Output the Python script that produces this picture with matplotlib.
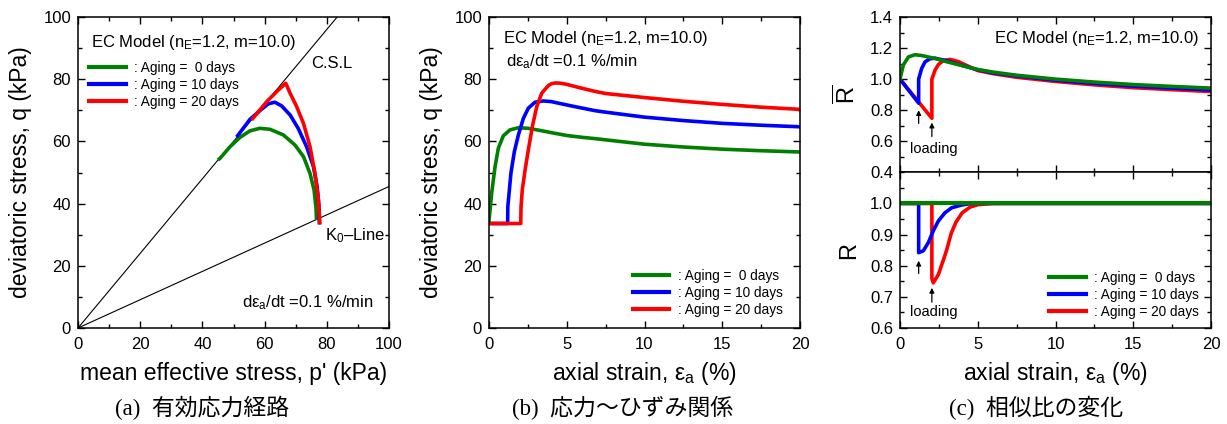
import matplotlib
matplotlib.use("Agg")
import matplotlib.pyplot as plt
from matplotlib.ticker import MultipleLocator
from matplotlib.lines import Line2D

plt.rcParams['font.family'] = ['Liberation Sans', 'DejaVu Sans']
plt.rcParams['mathtext.fontset'] = 'custom'
plt.rcParams['mathtext.rm'] = 'Liberation Sans'
plt.rcParams['mathtext.it'] = 'Liberation Sans:italic'
plt.rcParams['mathtext.sf'] = 'Liberation Sans'

# ---------------- data ----------------
labels = [': Aging =  0 days', ': Aging = 10 days', ': Aging = 20 days']
colors = ['#008000', '#0000ff', '#ff0000']

# critical state line slope and K0 line slope
csl_M = 1.2
k0_slope = 0.455

# (a) effective stress paths  p' (kPa), q (kPa)
p_0 = [76.7, 76.5, 75.9, 74.6, 72.5, 69.8, 66.0, 61.7, 58.5, 55.3, 52.1, 48.9, 45.7, 45.0]
q_0 = [34.7, 39.0, 44.4, 49.7, 55.1, 58.8, 62.1, 63.9, 64.2, 63.4, 61.3, 58.3, 54.6, 54.0]
p_10 = [77.6, 77.5, 76.9, 75.7, 73.5, 70.8, 68.2, 65.5, 63.3, 61.2, 58.5, 55.3, 51.0]
q_10 = [33.3, 39.0, 45.4, 51.9, 58.3, 64.2, 68.5, 71.4, 72.6, 72.1, 69.9, 67.1, 61.4]
p_20 = [77.8, 77.3, 76.2, 74.6, 72.5, 70.3, 68.2, 66.8, 64.4, 60.7, 55.8]
q_20 = [33.3, 41.2, 49.7, 58.3, 65.8, 71.2, 75.5, 78.7, 76.5, 72.8, 66.9]

# (b) stress-strain  axial strain (%), q (kPa)
e_b0 = [0.0, 0.17, 0.39, 0.6, 0.92, 1.35, 1.89, 2.53, 3.2, 4.03, 5.0, 6.0, 6.8,
        7.5, 10.0, 12.5, 15.0, 17.5, 20.0]
q_b0 = [34.5, 43.3, 51.9, 57.8, 61.8, 63.7, 64.4, 64.2, 63.6, 62.8, 61.9, 61.3, 60.9,
        60.5, 59.1, 58.2, 57.5, 57.0, 56.6]
e_b10 = [0.0, 1.2, 1.21, 1.29, 1.41, 1.63, 1.89, 2.21, 2.53, 2.96, 3.49, 4.0, 4.46,
         5.5, 6.8, 7.5, 10.0, 12.5, 15.0, 17.5, 20.0]
q_b10 = [33.6, 33.6, 39.0, 43.3, 49.8, 56.7, 62.1, 67.4, 70.7, 72.6, 73.0, 72.8, 72.3,
         71.2, 69.9, 69.4, 67.8, 66.7, 65.8, 65.2, 64.7]
e_b20 = [0.0, 2.04, 2.06, 2.14, 2.32, 2.53, 2.79, 3.07, 3.39, 3.82, 4.05, 4.3, 4.6,
         4.95, 5.8, 6.8, 7.5, 10.0, 12.5, 15.0, 17.5, 20.0]
q_b20 = [33.6, 33.6, 39.0, 44.4, 50.8, 57.3, 64.8, 71.2, 75.5, 78.0, 78.6, 78.8, 78.7,
         78.4, 77.3, 76.1, 75.4, 74.1, 72.9, 71.9, 71.0, 70.3]

# (c-upper) R-bar vs axial strain
e_r0 = [0.0, 0.21, 0.54, 0.96, 1.39, 2.25, 3.0, 3.96, 5.0, 6.0, 7.5, 10.0, 12.5, 15.0,
        17.5, 20.0]
rb_0 = [1.0, 1.09, 1.143, 1.157, 1.152, 1.133, 1.112, 1.088, 1.062, 1.045, 1.025, 1.0,
        0.981, 0.965, 0.953, 0.942]
e_r10 = [0.0, 1.2, 1.2, 1.39, 1.61, 1.93, 2.25, 3.0, 4.0, 5.0, 6.0, 7.5, 10.0, 12.5,
         15.0, 17.5, 20.0]
rb_10 = [1.0, 0.845, 1.0, 1.068, 1.111, 1.131, 1.135, 1.118, 1.088, 1.06, 1.04, 1.02,
         0.993, 0.972, 0.955, 0.942, 0.930]
e_r20 = [0.0, 2.05, 2.05, 2.25, 2.47, 2.79, 3.22, 3.75, 4.5, 5.0, 6.0, 7.5, 10.0, 12.5,
         15.0, 17.5, 20.0]
rb_20 = [1.0, 0.748, 1.0, 1.057, 1.094, 1.120, 1.127, 1.113, 1.078, 1.055, 1.035, 1.012,
         0.985, 0.963, 0.945, 0.932, 0.920]

# (c-lower) R vs axial strain
e_s0 = [0.0, 20.0]
r_0 = [1.0, 1.0]
e_s10 = [0.0, 1.2, 1.2, 1.5, 1.82, 2.14, 2.47, 2.89, 3.32, 3.96, 4.6, 20.0]
r_10 = [1.0, 1.0, 0.842, 0.848, 0.874, 0.912, 0.944, 0.970, 0.986, 0.995, 1.0, 1.0]
e_s20 = [0.0, 2.05, 2.05, 2.14, 2.47, 2.8, 3.0, 3.3, 3.6, 4.0, 4.5, 5.0, 6.0, 20.0]
r_20 = [1.0, 1.0, 0.76, 0.745, 0.772, 0.82, 0.85, 0.905, 0.94, 0.97, 0.988, 0.996, 1.0, 1.0]

# loading points marked by arrows
load_strain = [1.2, 2.05]

# ---------------- figure ----------------
W, H = 1227, 424
fig = plt.figure(figsize=(W / 100, H / 100), dpi=100)


def box(x0, y0, x1, y1):
    return [x0 / W, 1 - y1 / H, (x1 - x0) / W, (y1 - y0) / H]


axa = fig.add_axes(box(78, 17, 389, 328))
axb = fig.add_axes(box(489, 17, 800, 328))
axc1 = fig.add_axes(box(900, 17, 1211, 172.3))
axc2 = fig.add_axes(box(900, 172.3, 1211, 328))

LW = 2.6
TICK_FS = 12
LABEL_FS = 16.5
LEG_FS = 9.8


def style(ax, xpad=6.5):
    ax.tick_params(which='both', direction='in', top=True, right=True, width=1.0)
    ax.tick_params(which='major', length=5)
    ax.tick_params(which='minor', length=3)
    ax.tick_params(axis='x', pad=xpad, labelsize=TICK_FS)
    ax.tick_params(axis='y', pad=5, labelsize=TICK_FS)
    for s in ax.spines.values():
        s.set_linewidth(1.1)


leg_kw = dict(frameon=False, fontsize=LEG_FS, borderpad=0, borderaxespad=0,
              handlelength=2.7, handletextpad=0.6, labelspacing=0.22)

# ---- (a) ----
axa.plot([0, 100], [0, csl_M * 100], color='black', lw=0.8)
axa.plot([0, 100], [0, k0_slope * 100], color='black', lw=0.8)
axa.plot(p_0, q_0, color=colors[0], lw=LW, solid_capstyle='butt')
axa.plot(p_10, q_10, color=colors[1], lw=LW, solid_capstyle='butt')
axa.plot(p_20, q_20, color=colors[2], lw=LW, solid_capstyle='butt')
axa.set_xlim(0, 100)
axa.set_ylim(0, 100)
axa.xaxis.set_major_locator(MultipleLocator(20))
axa.xaxis.set_minor_locator(MultipleLocator(10))
axa.yaxis.set_major_locator(MultipleLocator(20))
axa.yaxis.set_minor_locator(MultipleLocator(10))
style(axa)
axa.set_xlabel("mean effective stress, p' (kPa)", fontsize=LABEL_FS, labelpad=7)
axa.set_ylabel("deviatoric stress, q (kPa)", fontsize=LABEL_FS, labelpad=8)
axa.text(4.2, 90.5, r'EC Model (n$_\mathrm{E}$=1.2, m=10.0)', fontsize=12, va='baseline')
axa.text(75.1, 83.5, 'C.S.L', fontsize=12, va='baseline')
axa.text(79.4, 28.1, r'K$_\mathrm{0}$–Line', fontsize=12, va='baseline')
axa.text(52.7, 6.6, r'd$\mathrm{ε_a}$/dt =0.1 %/min', fontsize=12, va='baseline')

handles = [Line2D([], [], color=c, lw=3.0) for c in colors]
axa.legend(handles, labels, loc='upper left', bbox_to_anchor=(0.035, 0.858), **leg_kw)

# ---- (b) ----
axb.plot(e_b0, q_b0, color=colors[0], lw=LW)
axb.plot(e_b10, q_b10, color=colors[1], lw=LW)
axb.plot(e_b20, q_b20, color=colors[2], lw=LW)
axb.set_xlim(0, 20)
axb.set_ylim(0, 100)
axb.xaxis.set_major_locator(MultipleLocator(5))
axb.xaxis.set_minor_locator(MultipleLocator(2.5))
axb.yaxis.set_major_locator(MultipleLocator(20))
axb.yaxis.set_minor_locator(MultipleLocator(10))
style(axb)
axb.set_xlabel(r'axial strain, $\mathrm{ε_a}$ (%)', fontsize=LABEL_FS, labelpad=6)
axb.set_ylabel("deviatoric stress, q (kPa)", fontsize=LABEL_FS, labelpad=8)
axb.text(0.88, 91.7, r'EC Model (n$_\mathrm{E}$=1.2, m=10.0)', fontsize=12, va='baseline')
axb.text(1.09, 84.0, r'd$\mathrm{ε_a}$/dt =0.1 %/min', fontsize=12, va='baseline')
axb.legend(handles, labels, loc='lower left', bbox_to_anchor=(0.462, 0.035), **leg_kw)

# ---- (c) upper: R-bar ----
axc1.plot(e_r20, rb_20, color=colors[2], lw=LW)
axc1.plot(e_r10, rb_10, color=colors[1], lw=LW)
axc1.plot(e_r0, rb_0, color=colors[0], lw=LW)
axc1.set_xlim(0, 20)
axc1.set_ylim(0.4, 1.4)
axc1.xaxis.set_major_locator(MultipleLocator(5))
axc1.xaxis.set_minor_locator(MultipleLocator(2.5))
axc1.yaxis.set_major_locator(MultipleLocator(0.2))
axc1.yaxis.set_minor_locator(MultipleLocator(0.1))
axc1.yaxis.set_major_formatter(plt.FormatStrFormatter('%.1f'))
style(axc1)
axc1.tick_params(axis='x', labelbottom=False)
axc1.set_ylabel(r'$\overline{\mathrm{R}}$', fontsize=17, labelpad=7)
axc1.text(19.23, 1.233, r'EC Model (n$_\mathrm{E}$=1.2, m=10.0)', fontsize=12,
          va='baseline', ha='right')
arrow_kw = dict(arrowstyle='-|>', color='black', lw=0.9, mutation_scale=7,
                shrinkA=0, shrinkB=0)
axc1.annotate('', xy=(load_strain[0], 0.80), xytext=(load_strain[0], 0.715),
              arrowprops=arrow_kw)
axc1.annotate('', xy=(load_strain[1], 0.72), xytext=(load_strain[1], 0.63),
              arrowprops=arrow_kw)
axc1.text(2.2, 0.522, 'loading', fontsize=10.5, ha='center', va='baseline')

# ---- (c) lower: R ----
axc2.plot(e_s20, r_20, color=colors[2], lw=LW)
axc2.plot(e_s10, r_10, color=colors[1], lw=LW)
axc2.plot(e_s0, r_0, color=colors[0], lw=LW + 0.4)
axc2.set_xlim(0, 20)
axc2.set_ylim(0.6, 1.1)
axc2.set_yticks([0.6, 0.7, 0.8, 0.9, 1.0])
axc2.yaxis.set_minor_locator(MultipleLocator(0.05))
axc2.xaxis.set_major_locator(MultipleLocator(5))
axc2.xaxis.set_minor_locator(MultipleLocator(2.5))
axc2.yaxis.set_major_formatter(plt.FormatStrFormatter('%.1f'))
style(axc2)
axc2.set_xlabel(r'axial strain, $\mathrm{ε_a}$ (%)', fontsize=LABEL_FS, labelpad=6)
axc2.set_ylabel('R', fontsize=17, labelpad=7)
axc2.annotate('', xy=(load_strain[0], 0.816), xytext=(load_strain[0], 0.775),
              arrowprops=arrow_kw)
axc2.annotate('', xy=(load_strain[1], 0.729), xytext=(load_strain[1], 0.683),
              arrowprops=arrow_kw)
axc2.text(2.2, 0.640, 'loading', fontsize=10.5, ha='center', va='baseline')
axc2.legend(handles, labels, loc='lower left', bbox_to_anchor=(0.479, 0.06), **leg_kw)

# panel captions
cap_fam = ['Liberation Serif', 'Noto Sans CJK JP']
fig.text(0.165, 0.038, '(a)  有効応力経路', fontsize=16.5, family=cap_fam,
         ha='center', va='center')
fig.text(0.507, 0.038, '(b)  応力～ひずみ関係', fontsize=16.5, family=cap_fam,
         ha='center', va='center')
fig.text(0.844, 0.038, '(c)  相似比の変化', fontsize=16.5, family=cap_fam,
         ha='center', va='center')

fig.savefig('out.png', dpi=100)
